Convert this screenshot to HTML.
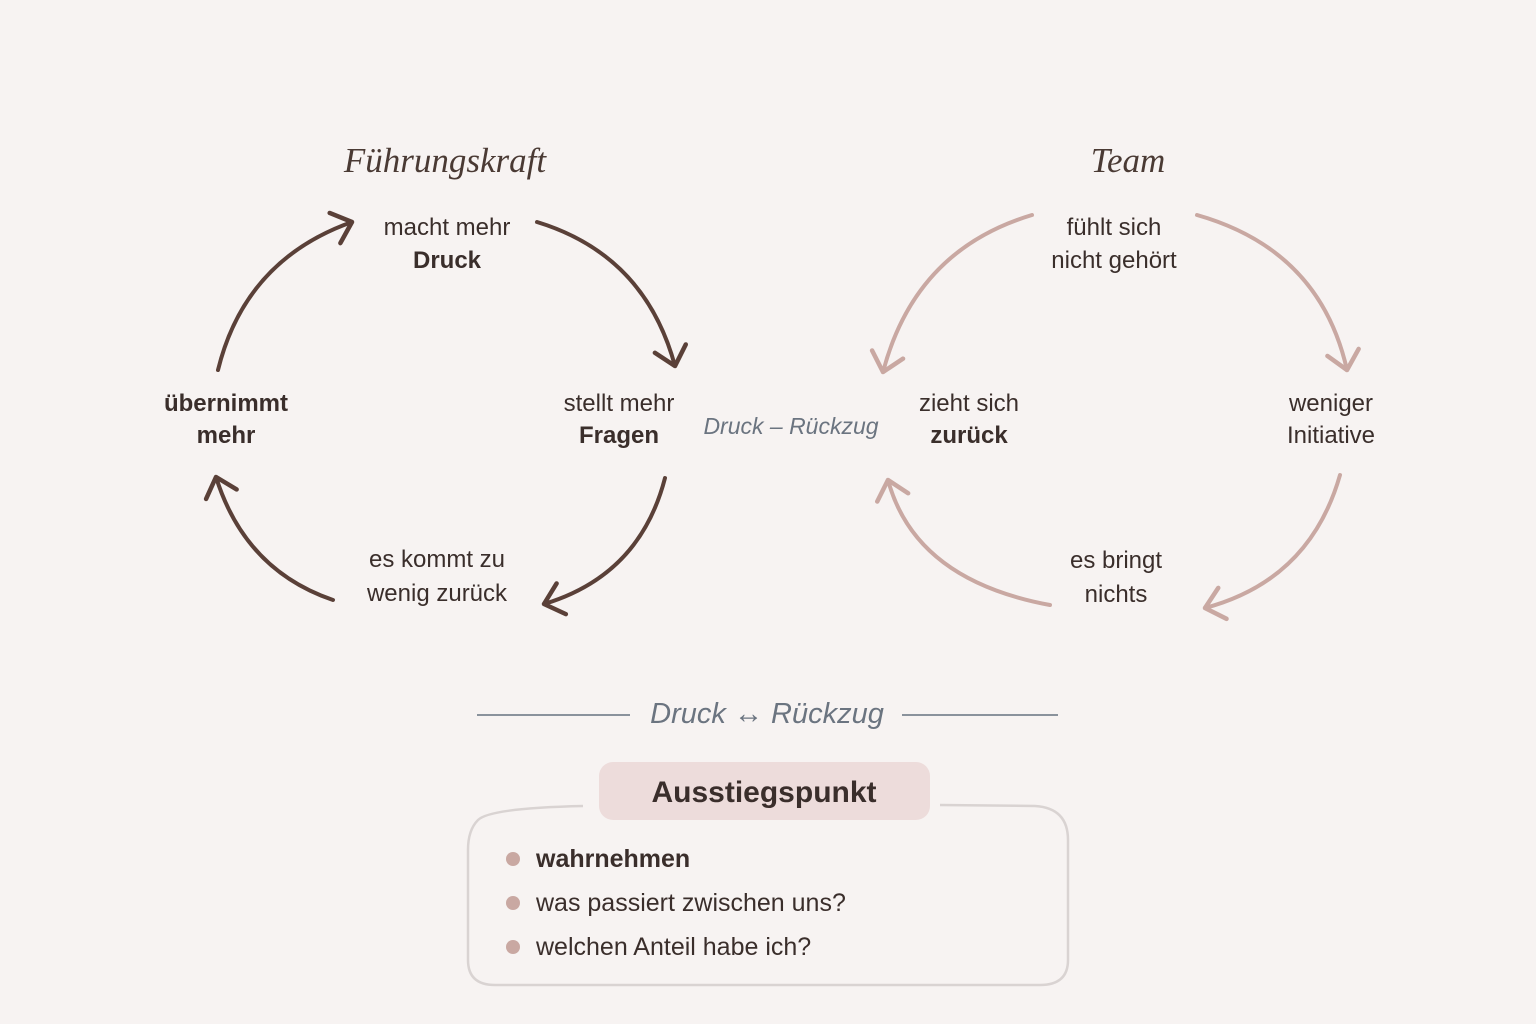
<!DOCTYPE html>
<html><head><meta charset="utf-8"><style>
body{margin:0;background:#f7f3f2;}
svg{display:block}
.t{font-family:"Liberation Sans",sans-serif;font-size:24px;fill:#3a2e2b;text-anchor:middle}
.b{font-weight:bold}
.h{font-family:"Liberation Serif",serif;font-style:italic;font-size:35px;fill:#4a3a34;text-anchor:middle}
.s{font-family:"Liberation Sans",sans-serif;font-style:italic;font-size:24px;fill:#6b7480;text-anchor:middle}
</style></head><body>
<svg width="1536" height="1024" viewBox="0 0 1536 1024">
<defs>
<marker id="ad" viewBox="0 0 20 20" refX="14" refY="10" markerWidth="20" markerHeight="20" markerUnits="userSpaceOnUse" orient="auto" style="overflow:visible">
<path d="M-4,-6 L14,10 L-4,26" fill="none" stroke="#5a4038" stroke-width="4.5" stroke-linecap="round" stroke-linejoin="round"/>
</marker>
<marker id="al" viewBox="0 0 20 20" refX="14" refY="10" markerWidth="20" markerHeight="20" markerUnits="userSpaceOnUse" orient="auto" style="overflow:visible">
<path d="M-4,-6 L14,10 L-4,26" fill="none" stroke="#c9a8a2" stroke-width="4.5" stroke-linecap="round" stroke-linejoin="round"/>
</marker>
</defs>
<rect width="1536" height="1024" fill="#f7f3f2"/>
<g fill="none" stroke="#5a4038" stroke-width="4" stroke-linecap="round">
<path d="M218,370 Q245,260 352,222" marker-end="url(#ad)"/>
<path d="M537,222 Q645,255 675,366" marker-end="url(#ad)"/>
<path d="M665,478 Q640,575 544,604" marker-end="url(#ad)"/>
<path d="M333,600 Q245,570 216,477" marker-end="url(#ad)"/>
</g>
<g fill="none" stroke="#c9a8a2" stroke-width="4" stroke-linecap="round">
<path d="M1032,215 Q915,250 883,372" marker-end="url(#al)"/>
<path d="M1197,215 Q1320,250 1347,370" marker-end="url(#al)"/>
<path d="M1340,475 Q1310,580 1205,608" marker-end="url(#al)"/>
<path d="M1050,605 Q915,580 888,480" marker-end="url(#al)"/>
</g>
<text class="h" x="445" y="172">Führungskraft</text>
<text class="h" x="1128" y="172">Team</text>
<text class="t" x="447" y="235">macht mehr</text><text class="t b" x="447" y="268">Druck</text>
<text class="t" x="619" y="411">stellt mehr</text><text class="t b" x="619" y="443">Fragen</text>
<text class="t b" x="226" y="411">übernimmt</text><text class="t b" x="226" y="443">mehr</text>
<text class="t" x="437" y="567">es kommt zu</text><text class="t" x="437" y="601">wenig zurück</text>
<text class="s" x="791" y="434" style="font-size:23px">Druck – Rückzug</text>
<text class="t" x="1114" y="235">fühlt sich</text><text class="t" x="1114" y="268">nicht gehört</text>
<text class="t" x="969" y="411">zieht sich</text><text class="t b" x="969" y="443">zurück</text>
<text class="t" x="1331" y="411">weniger</text><text class="t" x="1331" y="443">Initiative</text>
<text class="t" x="1116" y="568">es bringt</text><text class="t" x="1116" y="602">nichts</text>
<line x1="477" y1="715" x2="630" y2="715" stroke="#8a929c" stroke-width="2"/>
<line x1="902" y1="715" x2="1058" y2="715" stroke="#8a929c" stroke-width="2"/>
<text class="s" x="767" y="723" style="font-size:29px">Druck ↔ Rückzug</text>
<path d="M583,806 Q490,808 478,820 Q468,830 468,850 L468,960 Q468,985 495,985 L1040,985 Q1068,985 1068,960 L1068,840 Q1068,808 1035,806 L940,805" fill="none" stroke="#d9d3d2" stroke-width="2.5"/>
<rect x="599" y="762" width="331" height="58" rx="14" fill="#eddcdb"/>
<text class="t b" x="764" y="802" style="font-size:30px;fill:#3a2e2b">Ausstiegspunkt</text>
<g fill="#c9a8a2"><circle cx="513" cy="859" r="7"/><circle cx="513" cy="903" r="7"/><circle cx="513" cy="947" r="7"/></g>
<text x="536" y="867" class="t b" style="text-anchor:start;font-size:25px">wahrnehmen</text>
<text x="536" y="911" class="t" style="text-anchor:start;font-size:25px">was passiert zwischen uns?</text>
<text x="536" y="955" class="t" style="text-anchor:start;font-size:25px">welchen Anteil habe ich?</text>
</svg>
</body></html>
